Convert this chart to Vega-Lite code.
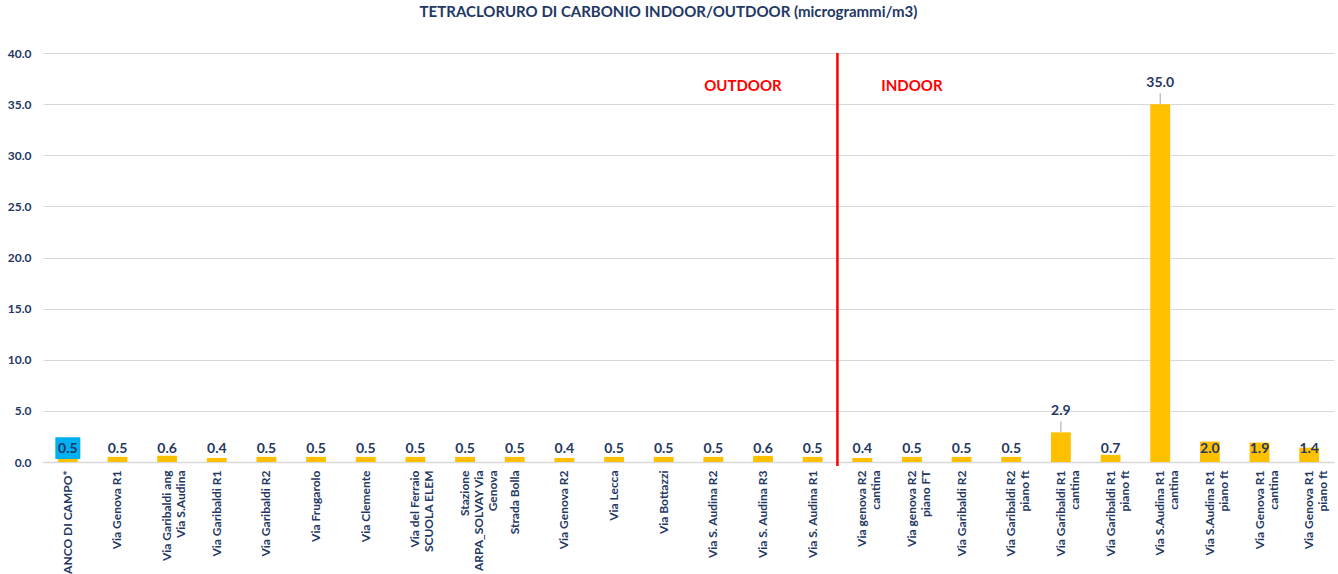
{
  "$schema": "https://vega.github.io/schema/vega-lite/v6.json",
  "width": 1291,
  "height": 409,
  "autosize": {"type": "none"},
  "padding": {"left": 43, "top": 53, "right": 4, "bottom": 112},
  "background": "white",
  "title": {
    "text": "TETRACLORURO DI CARBONIO INDOOR/OUTDOOR (microgrammi/m3)",
    "font": "Lato", "fontSize": 15, "fontWeight": "bold", "color": "#1F3864",
    "anchor": "middle", "dx": -20, "offset": 27
  },
  "config": {"view": {"stroke": null}, "font": "Lato"},
  "data": {
    "values": [
      {"sito": "BIANCO DI CAMPO*", "ambiente": "OUTDOOR", "valore": 0.5},
      {"sito": "Via Genova R1", "ambiente": "OUTDOOR", "valore": 0.5},
      {"sito": "Via Garibaldi ang\nVia S.Audina", "ambiente": "OUTDOOR", "valore": 0.6},
      {"sito": "Via Garibaldi R1", "ambiente": "OUTDOOR", "valore": 0.4},
      {"sito": "Via Garibaldi R2", "ambiente": "OUTDOOR", "valore": 0.5},
      {"sito": "Via Frugarolo", "ambiente": "OUTDOOR", "valore": 0.5},
      {"sito": "Via Clemente", "ambiente": "OUTDOOR", "valore": 0.5},
      {"sito": "Via del Ferraio\nSCUOLA ELEM", "ambiente": "OUTDOOR", "valore": 0.5},
      {"sito": "Stazione\nARPA_SOLVAY Via\nGenova", "ambiente": "OUTDOOR", "valore": 0.5},
      {"sito": "Strada Bolla", "ambiente": "OUTDOOR", "valore": 0.5},
      {"sito": "Via Genova R2", "ambiente": "OUTDOOR", "valore": 0.4},
      {"sito": "Via Lecca", "ambiente": "OUTDOOR", "valore": 0.5},
      {"sito": "Via Bottazzi", "ambiente": "OUTDOOR", "valore": 0.5},
      {"sito": "Via S. Audina R2", "ambiente": "OUTDOOR", "valore": 0.5},
      {"sito": "Via S. Audina R3", "ambiente": "OUTDOOR", "valore": 0.6},
      {"sito": "Via S. Audina R1", "ambiente": "OUTDOOR", "valore": 0.5},
      {"sito": "Via genova R2\ncantina", "ambiente": "INDOOR", "valore": 0.4},
      {"sito": "Via genova R2\npiano FT", "ambiente": "INDOOR", "valore": 0.5},
      {"sito": "Via Garibaldi R2 ", "ambiente": "INDOOR", "valore": 0.5},
      {"sito": "Via Garibaldi R2\npiano ft", "ambiente": "INDOOR", "valore": 0.5},
      {"sito": "Via Garibaldi R1\ncantina", "ambiente": "INDOOR", "valore": 2.9},
      {"sito": "Via Garibaldi R1\npiano ft", "ambiente": "INDOOR", "valore": 0.7},
      {"sito": "Via S.Audina R1\ncantina", "ambiente": "INDOOR", "valore": 35.0},
      {"sito": "Via S.Audina R1\npiano ft", "ambiente": "INDOOR", "valore": 2.0},
      {"sito": "Via Genova R1\ncantina", "ambiente": "INDOOR", "valore": 1.9},
      {"sito": "Via Genova R1\npiano ft", "ambiente": "INDOOR", "valore": 1.4}
    ]
  },
  "layer": [
    {
      "mark": {"type": "bar", "color": "#FFC000"},
      "encoding": {
        "x": {
          "field": "sito", "type": "nominal", "sort": null,
          "scale": {"paddingInner": 0.6, "paddingOuter": 0.3},
          "axis": {
            "title": null, "labelAngle": -90, "labelAlign": "right", "labelBaseline": "middle",
            "labelExpr": "split(datum.label, '\\n')",
            "labelFont": "Lato", "labelFontSize": 12, "labelFontWeight": "bold", "labelColor": "#1F3864",
            "labelLineHeight": 14, "ticks": false, "domain": true, "domainColor": "#D9D9D9", "domainWidth": 1.5,
            "labelPadding": 8, "labelOverlap": false, "labelLimit": 300
          }
        },
        "y": {
          "field": "valore", "type": "quantitative",
          "scale": {"domain": [0, 40]},
          "axis": {
            "title": null, "values": [0, 5, 10, 15, 20, 25, 30, 35, 40], "format": ".1f",
            "labelFont": "Lato", "labelFontSize": 12, "labelFontWeight": "bold", "labelColor": "#1F3864",
            "ticks": false, "domain": false, "grid": true, "gridColor": "#D9D9D9", "labelPadding": 12
          }
        }
      }
    },
    {
      "transform": [{"filter": "datum.sito == 'BIANCO DI CAMPO*'"}],
      "mark": {"type": "bar", "color": "#00B0F0", "width": 25},
      "encoding": {
        "x": {"field": "sito", "type": "nominal", "sort": null},
        "y": {"datum": 0.29, "type": "quantitative"},
        "y2": {"datum": 2.42}
      }
    },
    {
      "transform": [{"filter": "datum.valore < 2.5"}],
      "mark": {"type": "text", "font": "Lato", "fontSize": 14, "fontWeight": "bold", "color": "#1F3864", "baseline": "middle"},
      "encoding": {
        "x": {"field": "sito", "type": "nominal", "sort": null},
        "y": {"datum": 1.25, "type": "quantitative"},
        "text": {"field": "valore", "type": "quantitative", "format": ".1f"}
      }
    },
    {
      "transform": [{"filter": "datum.valore >= 2.5"}],
      "mark": {"type": "rule", "color": "#A6A6A6", "strokeWidth": 1, "y2Offset": -11},
      "encoding": {
        "x": {"field": "sito", "type": "nominal", "sort": null},
        "y": {"field": "valore", "type": "quantitative"},
        "y2": {"field": "valore"}
      }
    },
    {
      "transform": [{"filter": "datum.valore >= 2.5"}],
      "mark": {"type": "text", "font": "Lato", "fontSize": 14, "fontWeight": "bold", "color": "#1F3864", "baseline": "middle", "dy": -21},
      "encoding": {
        "x": {"field": "sito", "type": "nominal", "sort": null},
        "y": {"field": "valore", "type": "quantitative"},
        "text": {"field": "valore", "type": "quantitative", "format": ".1f"}
      }
    },
    {
      "data": {"values": [{"etichetta": "OUTDOOR"}]},
      "mark": {"type": "text", "font": "Lato", "fontSize": 15, "fontWeight": "bold", "color": "#FF0000", "baseline": "middle", "dx": -20},
      "encoding": {
        "x": {"datum": "Via S. Audina R3", "type": "nominal"},
        "y": {"datum": 36.8, "type": "quantitative"},
        "text": {"field": "etichetta"}
      }
    },
    {
      "data": {"values": [{"etichetta": "INDOOR"}]},
      "mark": {"type": "text", "font": "Lato", "fontSize": 15, "fontWeight": "bold", "color": "#FF0000", "baseline": "middle"},
      "encoding": {
        "x": {"datum": "Via genova R2\npiano FT", "type": "nominal"},
        "y": {"datum": 36.8, "type": "quantitative"},
        "text": {"field": "etichetta"}
      }
    },
    {
      "data": {"values": [{"linea": "separazione"}]},
      "mark": {"type": "rule", "color": "#FF0000", "strokeWidth": 2.5, "xOffset": 24.8},
      "encoding": {
        "x": {"datum": "Via S. Audina R1", "type": "nominal"},
        "y": {"datum": 40, "type": "quantitative"},
        "y2": {"datum": -0.4}
      }
    }
  ]
}
